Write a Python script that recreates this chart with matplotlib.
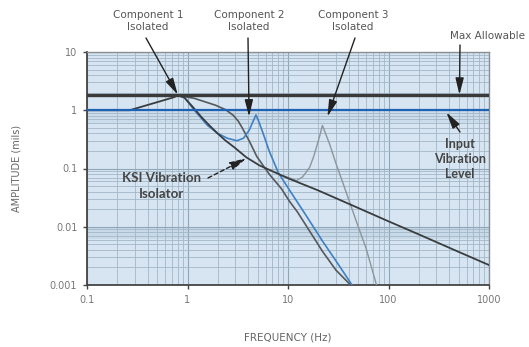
import matplotlib
matplotlib.use("Agg")
import matplotlib.pyplot as plt
from matplotlib.ticker import FixedLocator, FixedFormatter, LogLocator, NullFormatter

# Frequencies (Hz) and amplitudes (mils)
ksi_f = [0.1, 0.2, 0.265, 0.46, 0.73, 0.8, 0.93, 1.15, 1.38, 1.65, 1.99, 2.4, 2.93, 3.86, 5.2,
         10, 20, 50, 100, 200, 500, 1000]
ksi_a = [1.0, 1.0, 1.0, 1.32, 1.67, 1.8, 1.65, 1.1, 0.76, 0.55, 0.40, 0.30, 0.23, 0.155, 0.113,
         0.068, 0.042, 0.021, 0.0124, 0.0074, 0.0037, 0.0022]

comp1_f = [0.8, 1.17, 1.9, 2.4, 2.85, 3.2, 3.5, 4.1, 4.9, 6.5, 8.6, 10.4, 12.4, 22, 30, 42]
comp1_a = [1.8, 1.6, 1.22, 1.02, 0.82, 0.65, 0.5, 0.30, 0.16, 0.08, 0.045, 0.027, 0.018,
           0.0038, 0.0018, 0.001]

comp2_f = [0.8, 0.93, 1.17, 1.58, 2.0, 2.5, 3.1, 3.6, 4.1, 4.5, 4.8, 5.1, 5.6, 6.5, 8.0, 10.4,
           15, 22, 30, 44]
comp2_a = [1.8, 1.67, 1.0, 0.55, 0.40, 0.33, 0.30, 0.33, 0.45, 0.65, 0.83, 0.65, 0.42, 0.2,
           0.085, 0.042, 0.016, 0.0057, 0.0026, 0.00096]

comp3_f = [9, 12.2, 14, 16.4, 18, 19.7, 21, 22, 26, 30, 35, 40, 50, 60, 76]
comp3_a = [0.075, 0.062, 0.072, 0.104, 0.16, 0.27, 0.40, 0.55, 0.26, 0.122, 0.058, 0.030,
           0.010, 0.0042, 0.001]

input_level = 1.0
max_allowable = 1.8

x_ticks = [0.1, 1, 10, 100, 1000]
x_labels = ["0.1", "1", "10", "100", "1000"]
y_ticks = [0.001, 0.01, 0.1, 1, 10]
y_labels = ["0.001", "0.01", "0.1", "1", "10"]

plt.rcParams["font.family"] = ["DejaVu Sans"]

W, H = 529, 347
fig = plt.figure(figsize=(W / 100, H / 100), dpi=100)
ax = fig.add_axes([87 / W, 1 - 285 / H, (489 - 87) / W, (285 - 52) / H])
ax.set_xscale("log")
ax.set_yscale("log")
ax.set_xlim(0.1, 1000)
ax.set_ylim(0.001, 10)
ax.set_facecolor("#d6e5f1")

# slightly darker bands seen in the background
ax.axhspan(0.6, 1.0, color="#cbdcea", zorder=0, lw=0)
ax.axhspan(0.0062, 0.01, color="#c8d9e7", zorder=0, lw=0)

ax.xaxis.set_major_locator(FixedLocator(x_ticks))
ax.xaxis.set_major_formatter(FixedFormatter(x_labels))
ax.yaxis.set_major_locator(FixedLocator(y_ticks))
ax.yaxis.set_major_formatter(FixedFormatter(y_labels))
ax.xaxis.set_minor_locator(LogLocator(base=10, subs=range(2, 10)))
ax.yaxis.set_minor_locator(LogLocator(base=10, subs=range(2, 10)))
ax.xaxis.set_minor_formatter(NullFormatter())
ax.yaxis.set_minor_formatter(NullFormatter())

ax.grid(True, which="major", color="#8fa5b8", lw=0.8, zorder=1)
ax.grid(True, which="minor", color="#a3b7c8", lw=0.6, zorder=1)
ax.set_axisbelow(True)
ax.tick_params(which="minor", length=0)
ax.tick_params(which="major", length=3, width=1, color="#444", labelsize=7,
               labelcolor="#777", pad=4)

for side in ["left", "bottom"]:
    ax.spines[side].set_color("#444")
    ax.spines[side].set_linewidth(1.3)
for side in ["top", "right"]:
    ax.spines[side].set_color("#8a8f94")
    ax.spines[side].set_linewidth(1.0)

# curves
ax.plot(comp3_f, comp3_a, color="#8d959c", lw=1.0, zorder=3)
ax.plot(comp1_f, comp1_a, color="#55595d", lw=1.2, zorder=3)
ax.plot(comp2_f, comp2_a, color="#3f80c4", lw=1.2, zorder=4)
ax.plot(ksi_f, ksi_a, color="#3a3d40", lw=1.3, zorder=4)
ax.axhline(input_level, color="#1f62b3", lw=1.6, zorder=5)
ax.axhline(max_allowable, color="#3a3a3a", lw=2.4, zorder=5)

fig.text(288 / W, 1 - 337 / H, "FREQUENCY (Hz)", fontsize=7.5, color="#666",
         ha="center", va="center")
fig.text(17 / W, 1 - 168 / H, "AMPLITUDE (mils)", fontsize=7, color="#666",
         ha="center", va="center", rotation=90)

# annotations
arrow = dict(arrowstyle="-|>,head_length=1.0,head_width=0.25", color="#222", lw=1.0,
             shrinkA=0, shrinkB=0)


def note(text, x, y, **kw):
    fig.text(x / W, 1 - y / H, text, ha="center", va="center", **kw)


def point(tip, tail, **kw):
    ax.annotate("", xy=tip, xycoords="data", xytext=(tail[0], H - tail[1]),
                textcoords="figure pixels", arrowprops=dict(arrow, **kw), zorder=6)


note("Component 1\nIsolated", 148, 21, fontsize=7.5, color="#555", linespacing=1.15)
note("Component 2\nIsolated", 249, 21, fontsize=7.5, color="#555", linespacing=1.15)
note("Component 3\nIsolated", 353, 21, fontsize=7.5, color="#555", linespacing=1.15)
note("Max Allowable", 487, 36, fontsize=7.5, color="#555")
note("Input\nVibration\nLevel", 460, 159, fontsize=9, color="#444", fontweight="bold",
     family=["Lato"], linespacing=1.3)
note("KSI Vibration\nIsolator", 162, 186, fontsize=9.5, color="#444", fontweight="bold",
     family=["Lato"], linespacing=1.3)

point((0.8, 1.85), (146, 38))
point((4.1, 0.78), (248, 38))
point((24.7, 0.78), (355, 38))
point((508, 1.85), (460, 45))
point((377, 0.92), (460, 132))
point((3.86, 0.15), (208, 178), linestyle=(0, (3, 2)))

fig.savefig("out.png", dpi=100)
